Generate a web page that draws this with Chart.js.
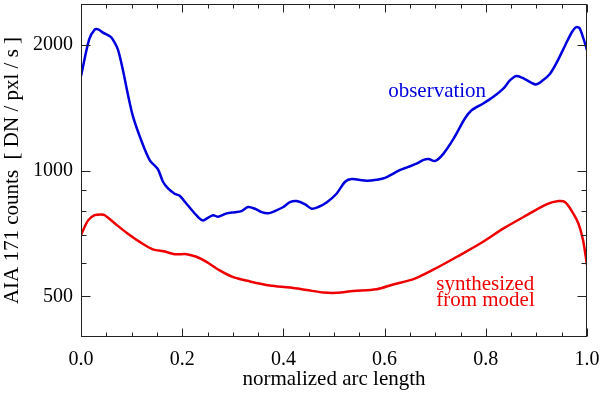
<!DOCTYPE html>
<html><head><meta charset="utf-8">
<script src="https://cdn.jsdelivr.net/npm/chart.js@4.4.0/dist/chart.umd.min.js"></script>
<style>html,body{margin:0;padding:0;background:#fff;}</style>
</head><body>
<canvas id="c" width="600" height="394"></canvas>
<script>
// Observation (blue)
const obsX=[0.0,0.016,0.027,0.034,0.0435,0.057,0.063,0.073,0.083,0.093,0.103,0.119,0.136,0.152,0.162,0.172,0.185,0.195,0.2085,0.228,0.240,0.248,0.261,0.271,0.288,0.304,0.317,0.330,0.344,0.357,0.370,0.383,0.400,0.413,0.426,0.443,0.456,0.469,0.486,0.505,0.522,0.535,0.565,0.584,0.601,0.631,0.647,0.664,0.677,0.687,0.700,0.716,0.736,0.759,0.772,0.795,0.815,0.835,0.848,0.861,0.878,0.898,0.911,0.927,0.941,0.957,0.970,0.978,0.985,0.993,1.0];
const obsY=[1680,2055,2172,2175,2135,2093,2055,1945,1734,1514,1343,1181,1058,1007,940,906,880,870,833,782,760,767,782,775,790,795,800,818,810,795,790,800,818,840,845,830,810,818,840,880,940,954,945,950,960,1003,1020,1040,1060,1065,1054,1096,1190,1333,1393,1446,1500,1571,1644,1683,1652,1606,1636,1704,1820,1993,2140,2200,2190,2066,1940];
// Synthesized from model (red)
const modX=[0.0,0.014,0.027,0.040,0.047,0.067,0.090,0.116,0.142,0.166,0.185,0.209,0.228,0.248,0.274,0.301,0.334,0.373,0.413,0.446,0.479,0.505,0.538,0.584,0.617,0.657,0.697,0.743,0.789,0.835,0.881,0.921,0.944,0.957,0.970,0.983,0.992,1.0];
const modY=[701,760,782,785,782,747,710,675,648,640,631,631,622,605,577,556,543,531,525,518,511,510,515,520,534,550,580,622,669,727,782,831,845,840,800,747,683,595];
// Axis ticks
const yTickValues=[500,600,700,800,900,1000,2000];
const yTickLabels={500:'500',1000:'1000',2000:'2000'};
const xMajorTicks=[0,0.2,0.4,0.6,0.8,1.0];
const xMinorTicks=[0.05,0.1,0.15,0.25,0.3,0.35,0.45,0.5,0.55,0.65,0.7,0.75,0.85,0.9,0.95];
// Annotations (data coordinates of text baseline-left)
const notes=[
  {text:'observation',x:0.607,y:1497,color:'#0000dd'},
  {text:'synthesized',x:0.702,y:517,color:'#ee0000'},
  {text:'from model',x:0.702,y:474,color:'#ee0000'}
];

const serif='"Liberation Serif", "Times New Roman", serif';
const toXY=(xs,ys)=>xs.map((x,i)=>({x:x,y:ys[i]}));

const framePlugin={
  id:'frame',
  afterDraw(chart){
    const ctx=chart.ctx, a=chart.chartArea, xs=chart.scales.x, ys=chart.scales.y;
    ctx.save();
    ctx.strokeStyle='#222'; ctx.lineWidth=1;
    const L=Math.round(a.left)+0.5, R=Math.round(a.right)-0.5, T=Math.round(a.top)+0.5, B=Math.round(a.bottom)-0.5;
    ctx.strokeRect(L,T,R-L,B-T);
    ctx.beginPath();
    const xt=(v,len)=>{const p=Math.round(xs.getPixelForValue(v))+0.5; ctx.moveTo(p,B); ctx.lineTo(p,B-len); ctx.moveTo(p,T); ctx.lineTo(p,T+len);};
    xMajorTicks.forEach(v=>xt(v,8)); xMinorTicks.forEach(v=>xt(v,4));
    yTickValues.forEach(v=>{const len=yTickLabels[v]?9:5; const p=Math.round(ys.getPixelForValue(v))+0.5; ctx.moveTo(L,p); ctx.lineTo(L+len,p); ctx.moveTo(R,p); ctx.lineTo(R-len,p);});
    ctx.stroke();
    ctx.font='21px '+serif; ctx.textAlign='left'; ctx.textBaseline='alphabetic';
    notes.forEach(n=>{ctx.fillStyle=n.color; ctx.fillText(n.text,xs.getPixelForValue(n.x),ys.getPixelForValue(n.y));});
    ctx.restore();
  }
};

new Chart(document.getElementById('c'),{
  type:'line',
  data:{datasets:[
    {label:'observation',data:toXY(obsX,obsY),borderColor:'#0000dd',borderWidth:2.5,pointRadius:0,tension:0.3,fill:false},
    {label:'synthesized from model',data:toXY(modX,modY),borderColor:'#ee0000',borderWidth:2.5,pointRadius:0,tension:0.3,fill:false}
  ]},
  options:{
    responsive:false,animation:false,
    layout:{padding:{top:4,right:13,left:0,bottom:0}},
    plugins:{legend:{display:false},tooltip:{enabled:false}},
    scales:{
      x:{type:'linear',min:0,max:1,
        afterBuildTicks(s){s.ticks=xMajorTicks.map(v=>({value:v}));},
        afterFit(s){s.height=57;s.paddingLeft=0;s.paddingRight=0;},
        ticks:{callback:v=>Number(v).toFixed(1),font:{family:serif,size:20},color:'#000',padding:11,maxRotation:0,autoSkip:false},
        grid:{display:true,drawOnChartArea:false,drawTicks:false},border:{display:false},
        title:{display:true,text:'normalized arc length',font:{family:serif,size:21},color:'#000',padding:{top:0,bottom:2}}
      },
      y:{type:'logarithmic',min:400,max:2500,
        afterBuildTicks(s){s.ticks=yTickValues.map(v=>({value:v}));},
        afterFit(s){s.width=81;s.paddingTop=0;s.paddingBottom=0;},
        ticks:{callback:v=>yTickLabels[v]||'',font:{family:serif,size:20},color:'#000',padding:8,autoSkip:false},
        grid:{display:true,drawOnChartArea:false,drawTicks:false},border:{display:false},
        title:{display:true,text:'AIA 171 counts  [ DN / pxl / s ]',font:{family:serif,size:21},color:'#000',padding:{top:0,bottom:0}}
      }
    }
  },
  plugins:[framePlugin]
});
</script>
</body></html>
